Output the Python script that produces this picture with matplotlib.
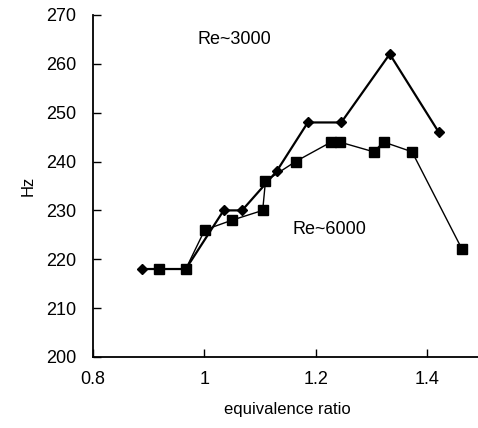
import matplotlib.pyplot as plt

# Re~3000 (diamonds)
phi_3000 = [0.889, 0.967, 1.035, 1.068, 1.130, 1.186, 1.246, 1.333, 1.421]
hz_3000 = [218, 218, 230, 230, 238, 248, 248, 262, 246]

# Re~6000 (squares)
phi_6000 = [0.919, 0.967, 1.001, 1.050, 1.105, 1.110, 1.164, 1.228, 1.243,
            1.304, 1.322, 1.373, 1.463]
hz_6000 = [218, 218, 226, 228, 230, 236, 240, 244, 244, 242, 244, 242, 222]

x_ticks = [0.8, 1.0, 1.2, 1.4]
x_tick_labels = ['0.8', '1', '1.2', '1.4']
y_ticks = [200, 210, 220, 230, 240, 250, 260, 270]

plt.rcParams['font.family'] = ['Liberation Sans', 'DejaVu Sans']

fig = plt.figure(figsize=(4.78, 4.28), dpi=100)
ax = fig.add_axes([0.194, 0.166, 0.816, 0.799])

ax.plot(phi_3000, hz_3000, color='black', lw=1.6, marker='D', ms=5.5)
ax.plot(phi_6000, hz_6000, color='black', lw=1.0, marker='s', ms=7)

ax.text(1.055, 265, 'Re~3000', fontsize=13, ha='center', va='center')
ax.text(1.225, 226, 'Re~6000', fontsize=13, ha='center', va='center')

ax.set_xlim(0.8, 1.5)
ax.set_ylim(200, 270)
ax.set_xticks(x_ticks)
ax.set_xticklabels(x_tick_labels)
ax.set_yticks(y_ticks)
ax.tick_params(direction='in', length=6, labelsize=13, width=1)
ax.tick_params(axis='x', pad=10)
ax.tick_params(axis='y', pad=12)
ax.spines['top'].set_visible(False)
ax.spines['right'].set_visible(False)
ax.spines['left'].set_linewidth(1.3)
ax.spines['bottom'].set_linewidth(1.3)

ax.set_xlabel('equivalence ratio', fontsize=12, labelpad=10)
ax.set_ylabel('Hz', fontsize=12, labelpad=7)

fig.savefig('out.png', dpi=100)
